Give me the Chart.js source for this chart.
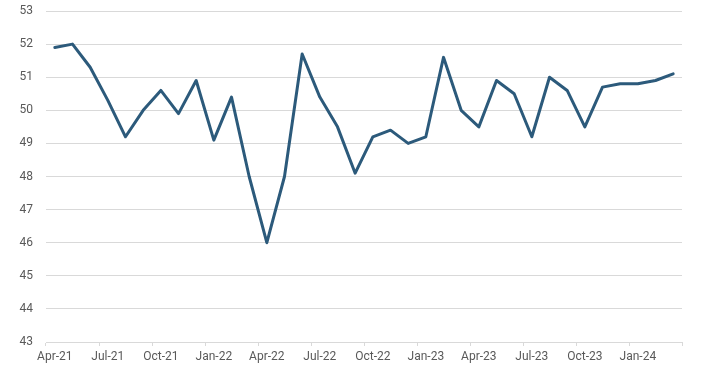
<!DOCTYPE html>
<html>
<head>
<meta charset="utf-8">
<script src="https://cdn.jsdelivr.net/npm/chart.js@4/dist/chart.umd.min.js"></script>
<style>
    html, body { margin: 0; padding: 0; background: #ffffff; }
    #wrap { width: 704px; height: 377px; }
</style>
</head>
<body>
<div id="wrap"><canvas id="pmi-chart"></canvas></div>
<script>
// Mois d'avril 2021 à mars 2024
const months = [
    'Apr-21', 'May-21', 'Jun-21', 'Jul-21', 'Aug-21', 'Sep-21',
    'Oct-21', 'Nov-21', 'Dec-21', 'Jan-22', 'Feb-22', 'Mar-22',
    'Apr-22', 'May-22', 'Jun-22', 'Jul-22', 'Aug-22', 'Sep-22',
    'Oct-22', 'Nov-22', 'Dec-22', 'Jan-23', 'Feb-23', 'Mar-23',
    'Apr-23', 'May-23', 'Jun-23', 'Jul-23', 'Aug-23', 'Sep-23',
    'Oct-23', 'Nov-23', 'Dec-23', 'Jan-24', 'Feb-24', 'Mar-24'
];

// Valeurs
const values = [
    51.9, 52.0, 51.3, 50.3, 49.2, 50.0,
    50.6, 49.9, 50.9, 49.1, 50.4, 48.0,
    46.0, 48.0, 51.7, 50.4, 49.5, 48.1,
    49.2, 49.4, 49.0, 49.2, 51.6, 50.0,
    49.5, 50.9, 50.5, 49.2, 51.0, 50.6,
    49.5, 50.7, 50.8, 50.8, 50.9, 51.1
];

// Axe vertical
const yMin = 43;
const yMax = 53;
const yStep = 1;

const GRID_COLOR = '#d9d9d9';
const TEXT_COLOR = '#595959';
const LINE_COLOR = '#2c5a7b';

const ctx = document.getElementById('pmi-chart').getContext('2d');
const pmiChart = new Chart(ctx, {
    type: 'line',
    data: {
        labels: months,
        datasets: [{
            data: values,
            borderColor: LINE_COLOR,
            borderWidth: 3,
            borderJoinStyle: 'round',
            borderCapStyle: 'round',
            pointRadius: 0,
            pointHoverRadius: 0,
            tension: 0,
            fill: false
        }]
    },
    options: {
        responsive: true,
        maintainAspectRatio: false,
        animation: false,
        layout: {
            padding: { top: 11, right: 22, left: 0, bottom: 0 }
        },
        plugins: {
            legend: { display: false },
            tooltip: { enabled: false }
        },
        scales: {
            x: {
                offset: true,
                afterFit: scale => { scale.height = 35; },
                grid: {
                    offset: true,
                    drawOnChartArea: false,
                    drawTicks: true,
                    tickLength: 4,
                    tickColor: c => (c.index === undefined || c.index % 3 === 0) ? GRID_COLOR : 'rgba(0,0,0,0)'
                },
                border: { color: GRID_COLOR, width: 1 },
                ticks: {
                    autoSkip: false,
                    maxRotation: 0,
                    padding: 4,
                    color: TEXT_COLOR,
                    font: { family: 'Roboto', size: 12 },
                    callback: function (value, index) {
                        return index % 3 === 0 ? this.getLabelForValue(value) : '';
                    }
                }
            },
            y: {
                min: yMin,
                max: yMax,
                afterFit: scale => {
                    scale.width = 46;
                    scale.paddingTop = 0;
                },
                grid: {
                    color: GRID_COLOR,
                    lineWidth: 1,
                    drawTicks: false
                },
                border: { display: false },
                ticks: {
                    stepSize: yStep,
                    padding: 13,
                    color: TEXT_COLOR,
                    font: { family: 'Roboto', size: 12 }
                }
            }
        }
    }
});
</script>
</body>
</html>
